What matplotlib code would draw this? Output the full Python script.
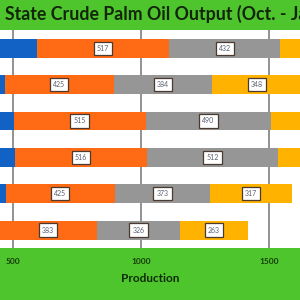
import matplotlib.pyplot as plt
import numpy as np

# state crude palm oil output, Oct. - Jan. (stacked per month)
states = ['Sabah', 'Sarawak', 'Johor', 'Pahang', 'Perak', 'Others']
months = ['Oct.', 'Nov.', 'Dec.', 'Jan.']
oct_vals = [594, 469, 504, 508, 473, 445]
nov_vals = [517, 425, 515, 516, 425, 383]
dec_vals = [432, 384, 490, 512, 373, 326]
jan_vals = [420, 348, 470, 480, 317, 263]

colours = ['#1262c6', '#ff6a15', '#969696', '#ffb300']
green = '#4ec52c'
x_lo, x_hi = 450.4, 1620.9

fig = plt.figure(figsize=(3, 3), dpi=100, facecolor=green)
ax = fig.add_axes([0, 0.1723, 1, 0.7277])

series = [oct_vals, nov_vals, dec_vals, jan_vals]
y = np.arange(len(states))
left = np.zeros(len(states))
for vals, col, name in zip(series, colours, months):
    bars = ax.barh(y, vals, left=left, height=0.52, color=col, label=name, zorder=2)
    for b, v in zip(bars, vals):
        cx = b.get_x() + b.get_width() / 2
        # only the labels that fall inside the visible window
        if cx < x_lo + 40 or cx > x_hi - 40:
            continue
        ax.text(cx, b.get_y() + b.get_height() / 2, str(v),
                ha='center', va='center', fontsize=5, color='#5a6070', family='Lato',
                bbox=dict(boxstyle='square,pad=0.45', fc='white', ec='#4a3a30', lw=0.9),
                zorder=3)
    left += np.array(vals)

ax.set_xlim(x_lo, x_hi)
ax.set_ylim(5.5, -0.5)
ax.set_xticks([500, 1000, 1500])
ax.set_xticklabels(['500', '1000', '1500'], family='Lato', fontweight='bold',
                   fontsize=6, color='#163a0a')
ax.tick_params(axis='x', length=0, pad=7)
ax.tick_params(axis='y', left=False, labelleft=False)
ax.grid(axis='x', color='#7f7f7f', lw=1.2, zorder=0)
for s in ax.spines.values():
    s.set_visible(False)

ax.set_xlabel('Production', family='Lato', fontweight='bold', fontsize=8.5, color='#0d2a05')
ax.xaxis.set_label_coords(0.5, -0.115)

# title runs past the right edge, as in the cropped original
fig.text(5 / 300, 1 - 14 / 300, 'State Crude Palm Oil Output (Oct. - Jan.)', ha='left', va='center',
         family='Lato', fontweight='bold', fontsize=12.8, color='#13260c')

fig.savefig('out.png', dpi=100, facecolor=green)
